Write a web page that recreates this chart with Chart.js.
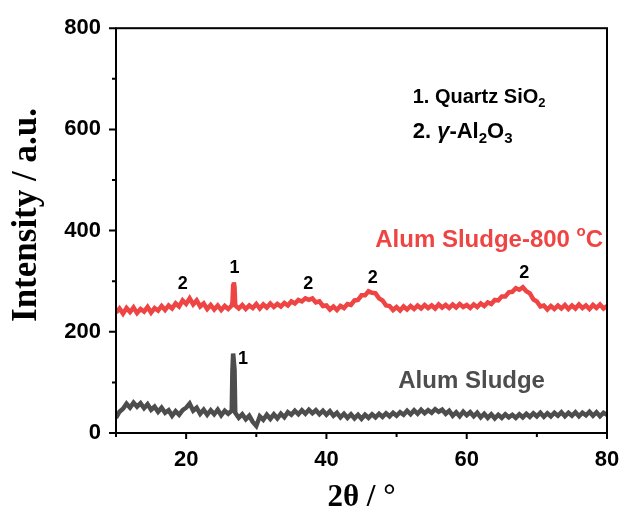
<!DOCTYPE html>
<html>
<head>
<meta charset="utf-8">
<script src="https://cdn.jsdelivr.net/npm/chart.js@4"></script>
<style>
  html, body { margin: 0; padding: 0; background: #ffffff; }
  canvas { display: block; }
</style>
</head>
<body>
<canvas id="c" width="635" height="513"></canvas>
<script>
// ---- data ----
const twoTheta = [
  10, 10.5, 11, 11.5, 12, 12.5, 13, 13.5, 14, 14.5, 15, 15.5, 16, 16.5, 17, 17.5,
  18, 18.5, 19, 19.5, 20, 20.5, 21, 21.5, 22, 22.5, 23, 23.5, 24, 24.5, 25, 25.5,
  26, 26.5, 26.6, 26.7, 26.8, 26.9, 27, 27.5, 28, 28.5, 29, 29.5, 30, 30.5,
  31, 31.5, 32, 32.5, 33, 33.5, 34, 34.5, 35, 35.5, 36, 36.5, 37, 37.5, 38, 38.5,
  39, 39.5, 40, 40.5, 41, 41.5, 42, 42.5, 43, 43.5, 44, 44.5, 45, 45.5, 46, 46.5,
  47, 47.5, 48, 48.5, 49, 49.5, 50, 50.5, 51, 51.5, 52, 52.5, 53, 53.5, 54, 54.5,
  55, 55.5, 56, 56.5, 57, 57.5, 58, 58.5, 59, 59.5, 60, 60.5, 61, 61.5, 62, 62.5,
  63, 63.5, 64, 64.5, 65, 65.5, 66, 66.5, 67, 67.5, 68, 68.5, 69, 69.5, 70, 70.5,
  71, 71.5, 72, 72.5, 73, 73.5, 74, 74.5, 75, 75.5, 76, 76.5, 77, 77.5, 78, 78.5,
  79, 79.5, 80
];
const sludge800 = [
  238, 246, 236, 247, 239, 248, 237, 245, 240, 249, 238, 247, 242, 251, 243, 252,
  246, 256, 250, 262, 255, 266, 254, 262, 250, 256, 245, 253, 244, 252, 243, 251,
  245, 252, 258, 290, 298, 288, 252, 246, 253, 245, 252, 247, 255, 246,
  254, 248, 256, 249, 255, 250, 257, 252, 260, 256, 263, 260, 266, 263, 266, 258,
  260, 251, 252, 244, 250, 243, 251, 247, 255, 253, 262, 263, 272, 272, 280, 277,
  276, 266, 262, 252, 251, 243, 249, 242, 250, 244, 251, 245, 252, 246, 253, 247,
  252, 246, 254, 248, 253, 247, 254, 248, 255, 249, 253, 247, 254, 249, 256, 251,
  258, 255, 263, 262, 270, 270, 278, 279, 286, 283, 288, 280, 276, 264, 260, 250,
  252, 244, 251, 245, 252, 246, 253, 245, 252, 246, 254, 247, 252, 245, 253, 247,
  254, 246, 251
];
const sludge = [
  30, 42, 48, 58, 50, 60, 52, 59, 49, 57, 46, 52, 42, 50, 40, 45,
  34, 43, 36, 45, 50, 58, 44, 50, 38, 46, 36, 45, 37, 46, 35, 44,
  38, 44, 125, 157, 157, 125, 40, 30, 37, 27, 34, 22, 14, 33,
  26, 36, 28, 37, 29, 38, 31, 41, 36, 44, 37, 45, 38, 46, 39, 45,
  37, 44, 36, 43, 34, 40, 31, 38, 30, 37, 29, 36, 28, 36, 30, 37,
  31, 38, 32, 39, 33, 40, 34, 41, 36, 44, 37, 45, 38, 46, 39, 45,
  40, 47, 42, 46, 38, 44, 34, 41, 33, 42, 35, 41, 33, 40, 31, 38,
  30, 37, 29, 36, 30, 37, 31, 36, 30, 37, 31, 38, 32, 39, 33, 40,
  32, 39, 33, 40, 34, 41, 33, 40, 34, 41, 33, 40, 35, 42, 34, 41,
  33, 40, 36
];
const xMajorTicks = [20, 40, 60, 80];
const xMinorTicks = [10, 30, 50, 70];
const yMajorTicks = [0, 200, 400, 600, 800];
const yMinorTicks = [100, 300, 500, 700];
const seriesNames = ['Alum Sludge-800 \u00B0C', 'Alum Sludge'];
// peak markers: [2theta, intensity, label]
const peakMarks800 = [[19.5, 295, '2'], [26.9, 327, '1'], [37.4, 294, '2'], [46.6, 306, '2'], [68.2, 317, '2']];
const peakMarksRaw = [[28.1, 146, '1']];

const RED = '#ef4444';
const GRAY = '#4d4d4d';

function drawRich(ctx, parts, x, y) {
  let cx = x;
  for (const [t, size, dy, italic] of parts) {
    ctx.font = (italic ? 'italic ' : '') + 'bold ' + size + 'px "Liberation Sans", Arial, sans-serif';
    ctx.fillText(t, cx, y + dy);
    cx += ctx.measureText(t).width;
  }
  return cx - x;
}
function richWidth(ctx, parts) {
  let w = 0;
  for (const [t, size, dy, italic] of parts) {
    ctx.font = (italic ? 'italic ' : '') + 'bold ' + size + 'px "Liberation Sans", Arial, sans-serif';
    w += ctx.measureText(t).width;
  }
  return w;
}

const decorPlugin = {
  id: 'decor',
  afterDraw(chart) {
    const ctx = chart.ctx;
    const a = chart.chartArea;
    const xs = chart.scales.x, ys = chart.scales.y;
    ctx.save();
    ctx.strokeStyle = '#000';
    ctx.lineWidth = 2;
    ctx.strokeRect(a.left, a.top, a.right - a.left, a.bottom - a.top);
    ctx.beginPath();
    for (const v of xMajorTicks) { const p = xs.getPixelForValue(v); ctx.moveTo(p, a.bottom); ctx.lineTo(p, a.bottom + 6); }
    for (const v of xMinorTicks) { const p = xs.getPixelForValue(v); ctx.moveTo(p, a.bottom); ctx.lineTo(p, a.bottom + 4); }
    for (const v of yMajorTicks) { const p = ys.getPixelForValue(v); ctx.moveTo(a.left, p); ctx.lineTo(a.left - 7, p); }
    for (const v of yMinorTicks) { const p = ys.getPixelForValue(v); ctx.moveTo(a.left, p); ctx.lineTo(a.left - 4, p); }
    ctx.stroke();

    ctx.fillStyle = '#000';
    ctx.textAlign = 'center';
    ctx.textBaseline = 'middle';
    ctx.font = 'bold 35px "Liberation Serif", "Times New Roman", serif';
    ctx.save();
    ctx.translate(27, 215);
    ctx.rotate(-Math.PI / 2);
    ctx.fillText('Intensity / a.u.', 0, 0);
    ctx.restore();
    ctx.font = 'bold 31px "Liberation Serif", "Times New Roman", serif';
    ctx.fillText('2\u03B8 / \u00B0', (a.left + a.right) / 2, 498);

    ctx.font = 'bold 18px "Liberation Sans", Arial, sans-serif';
    ctx.fillStyle = '#000';
    for (const [x, y, t] of peakMarks800.concat(peakMarksRaw)) {
      ctx.fillText(t, xs.getPixelForValue(x), ys.getPixelForValue(y));
    }

    ctx.textAlign = 'left';
    ctx.textBaseline = 'middle';
    ctx.fillStyle = GRAY;
    const grayParts = [[seriesNames[1], 24, 0, false]];
    const gw = richWidth(ctx, grayParts);
    drawRich(ctx, grayParts, xs.getPixelForValue(60.7) - gw / 2, ys.getPixelForValue(102));

    ctx.fillStyle = RED;
    const redParts = [['Alum Sludge-800 ', 24, 0, false], ['o', 15, -8, false], ['C', 24, 0, false]];
    const rw = richWidth(ctx, redParts);
    drawRich(ctx, redParts, xs.getPixelForValue(63.2) - rw / 2, ys.getPixelForValue(381));

    ctx.fillStyle = '#000';
    drawRich(ctx, [['1. Quartz SiO', 20, 0, false], ['2', 13, 6, false]], xs.getPixelForValue(52.3), ys.getPixelForValue(664));
    drawRich(ctx, [['2. ', 22, 0, false], ['\u03B3', 22, 0, true], ['-Al', 22, 0, false], ['2', 15, 7, false], ['O', 22, 0, false], ['3', 15, 7, false]],
      xs.getPixelForValue(52.3), ys.getPixelForValue(595));
    ctx.restore();
  }
};

new Chart(document.getElementById('c'), {
  type: 'line',
  data: {
    datasets: [
      { label: seriesNames[0], data: twoTheta.map((x, i) => ({ x, y: sludge800[i] })), borderColor: RED, backgroundColor: RED, borderWidth: 4.5, pointRadius: 0, tension: 0, borderJoinStyle: 'miter' },
      { label: seriesNames[1], data: twoTheta.map((x, i) => ({ x, y: sludge[i] })), borderColor: GRAY, backgroundColor: GRAY, borderWidth: 4.5, pointRadius: 0, tension: 0, borderJoinStyle: 'miter' }
    ]
  },
  options: {
    responsive: false,
    animation: false,
    events: [],
    layout: { padding: { top: 26, right: 28, left: 0, bottom: 0 } },
    plugins: { legend: { display: false }, tooltip: { enabled: false } },
    scales: {
      x: {
        type: 'linear', min: 10, max: 80,
        afterFit(s) { s.height = 80; },
        afterBuildTicks(s) { s.ticks = xMajorTicks.map(v => ({ value: v })); },
        grid: { display: false, drawTicks: false },
        border: { display: false },
        ticks: { padding: 14, color: '#000', maxRotation: 0, autoSkip: false, font: { family: '"Liberation Sans", Arial, sans-serif', size: 22, weight: 'bold' } }
      },
      y: {
        type: 'linear', min: 0, max: 800,
        afterFit(s) { s.width = 116; },
        afterBuildTicks(s) { s.ticks = yMajorTicks.map(v => ({ value: v })); },
        grid: { display: false, drawTicks: false },
        border: { display: false },
        ticks: { padding: 15, color: '#000', autoSkip: false, font: { family: '"Liberation Sans", Arial, sans-serif', size: 22, weight: 'bold' } }
      }
    }
  },
  plugins: [decorPlugin]
});
</script>
</body>
</html>
